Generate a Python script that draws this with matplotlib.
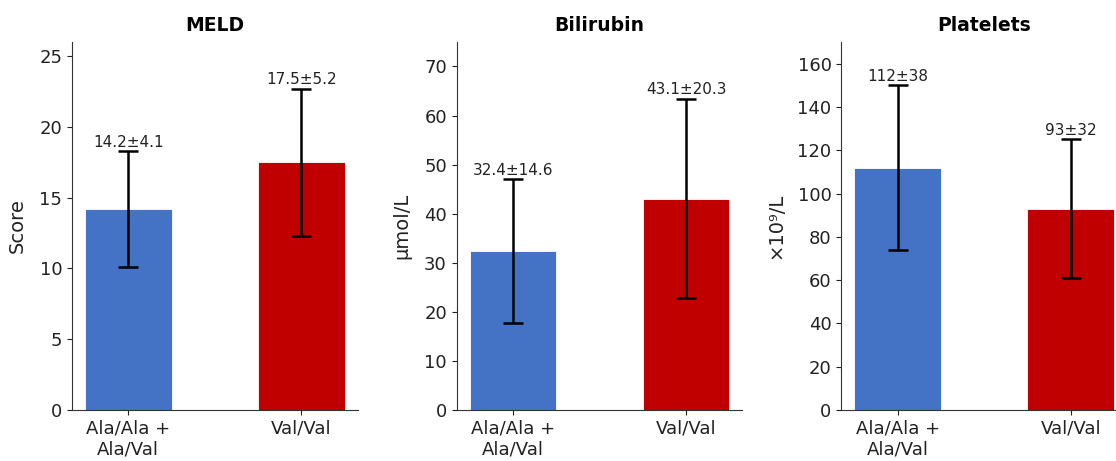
import matplotlib
matplotlib.use("Agg")
import matplotlib.pyplot as plt
import numpy as np

groups = ["Ala/Ala +\nAla/Val", "Val/Val"]
colors = ["#4472C4", "#C00000"]

titles = ["MELD", "Bilirubin", "Platelets"]
ylabels = ["Score", "µmol/L", "×10⁹/L"]
means = [[14.2, 17.5], [32.4, 43.1], [112, 93]]
sds = [[4.1, 5.2], [14.6, 20.3], [38, 32]]
labels = [["14.2±4.1", "17.5±5.2"], ["32.4±14.6", "43.1±20.3"], ["112±38", "93±32"]]
ymax = [26, 75, 170]

fig, axes = plt.subplots(1, 3, figsize=(11.16, 4.61), dpi=100)
# правая панель в оригинале обрезана по краю
fig.subplots_adjust(left=0.0645, right=1.0099, top=0.909, bottom=0.1106, wspace=0.346)

x = np.arange(len(groups))
for i, ax in enumerate(axes):
    ax.bar(x, means[i], width=0.5, color=colors, edgecolor="white", linewidth=0.6)
    ax.errorbar(x, means[i], yerr=sds[i], fmt="none", ecolor="black",
                elinewidth=1.8, capsize=7, capthick=1.8)
    for j in range(len(groups)):
        ax.annotate(labels[i][j], (x[j], means[i][j] + sds[i][j]),
                    xytext=(0, 1), textcoords="offset points",
                    ha="center", va="bottom", fontsize=11, color="#222222")
    ax.set_title(titles[i], fontsize=13.5, fontweight="bold", pad=8)
    ax.set_ylabel(ylabels[i], fontsize=14, labelpad=9, color="#222222")
    ax.set_xticks(x)
    ax.set_xticklabels(groups, fontsize=13)
    ax.tick_params(axis="both", labelsize=13, colors="#222222")
    ax.set_ylim(0, ymax[i])
    ax.spines["top"].set_visible(False)
    ax.spines["right"].set_visible(False)
    for s in ("left", "bottom"):
        ax.spines[s].set_color("#333333")

plt.savefig("out.png", dpi=100)
